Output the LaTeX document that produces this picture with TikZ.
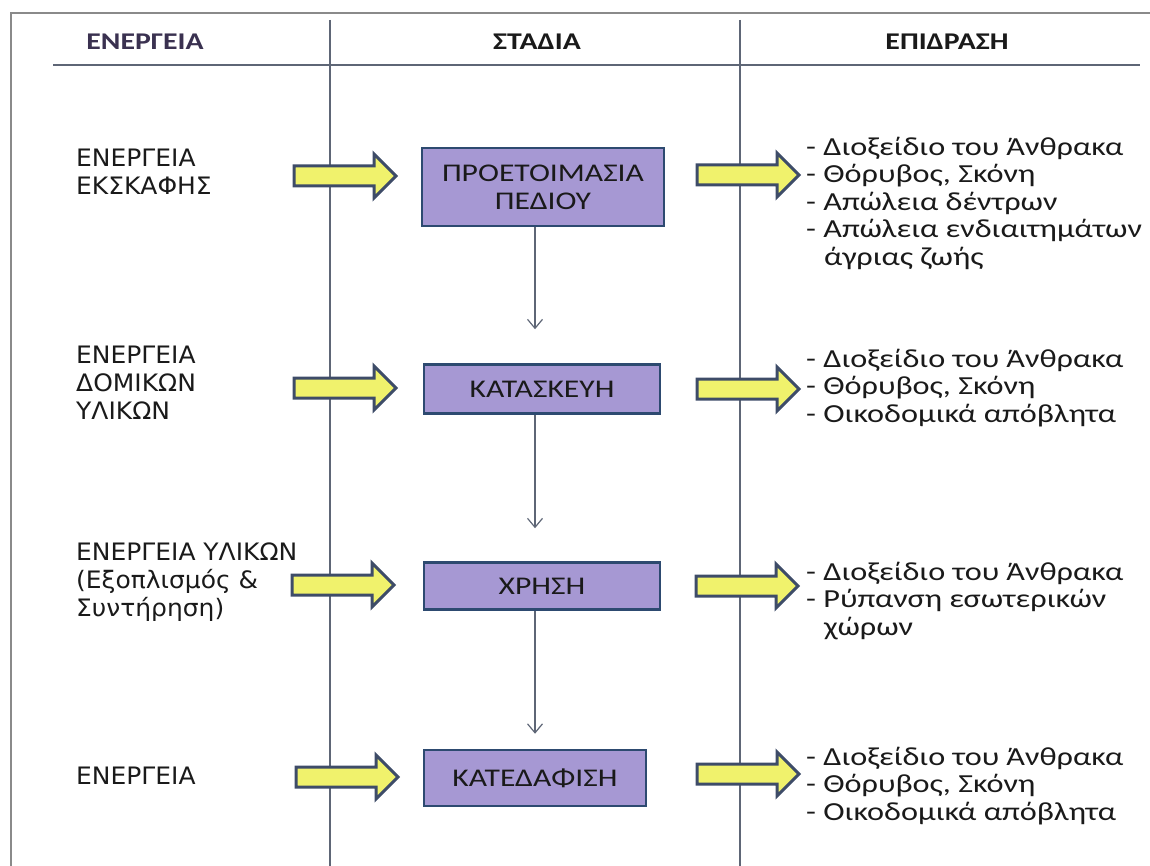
\documentclass[tikz,border=0pt]{standalone}
\usepackage{fontspec}
\setmainfont[FakeStretch=1.24]{Carlito}
\newfontfamily\lbl[FakeStretch=1.04]{DejaVu Sans}
\usetikzlibrary{arrows.meta}
\definecolor{frameg}{HTML}{8A8A8A}
\definecolor{colg}{HTML}{5E6676}
\definecolor{boxfill}{HTML}{A698D3}
\definecolor{boxdraw}{HTML}{2D4A70}
\definecolor{arrfill}{HTML}{F0F26C}
\definecolor{arrdraw}{HTML}{3E4C68}
\definecolor{hdrpurple}{HTML}{3A3150}
\definecolor{txt}{HTML}{1A1A1A}
\tikzset{
  hdr/.style={font=\fontsize{24}{28}\selectfont\bfseries, text=txt, inner sep=0pt},
  lefttxt/.style={font=\lbl\fontsize{24}{28}\selectfont, text=txt, align=left, anchor=west, inner sep=0pt},
  righttxt/.style={font=\fontsize{26}{27.5}\selectfont, text=txt, align=left, anchor=west, inner sep=0pt},
  stagebox/.style={draw=boxdraw, line width=2.5pt, fill=boxfill, font=\fontsize{25.5}{28}\selectfont, text=txt, align=center, inner sep=0pt},
  flowline/.style={draw=colg, line width=1.2pt, -{Straight Barb[length=9pt,width=15pt,line width=1.2pt]}},
  fatstyle/.style={draw=arrdraw, line width=3pt, fill=arrfill, line join=miter},
  fatarrow/.pic={\path[fatstyle] (-51,-10) -- (29,-10) -- (29,-22) -- (51,0) -- (29,22) -- (29,10) -- (-51,10) -- cycle;}
}
\begin{document}
\begin{tikzpicture}[x=1pt,y=-1pt]
\useasboundingbox (0,0) rectangle (1150,866);
% frame
\draw[frameg, line width=2.5pt] (11,866) -- (11,13) -- (1150,13);
\draw[colg, line width=1.5pt] (53,65) -- (1140,65);
\draw[colg, line width=1.3pt] (330,20) -- (330,866);
\draw[colg, line width=1.3pt] (740,20) -- (740,866);
% headers
\node[hdr, text=hdrpurple] (h1) at (145,42) {ΕΝΕΡΓΕΙΑ};
\node[hdr] (h2) at (537,42) {ΣΤΑΔΙΑ};
\node[hdr] (h3) at (947,42) {ΕΠΙΔΡΑΣΗ};
% boxes
\node[stagebox, minimum width=242pt, minimum height=78pt] (b1) at (543,187) {ΠΡΟΕΤΟΙΜΑΣΙΑ\\ΠΕΔΙΟΥ};
\node[stagebox, minimum width=236pt, minimum height=49pt] (b2) at (542,389) {ΚΑΤΑΣΚΕΥΗ};
\node[stagebox, minimum width=236pt, minimum height=47pt] (b3) at (542,586) {ΧΡΗΣΗ};
\node[stagebox, minimum width=222pt, minimum height=56pt] (b4) at (535,778) {ΚΑΤΕΔΑΦΙΣΗ};
% flow arrows
\draw[flowline, shorten >=34pt] (b1.south -| b4.north) -- (b2.north -| b4.north);
\draw[flowline, shorten >=33pt] (b2.south -| b4.north) -- (b3.north -| b4.north);
\draw[flowline, shorten >=15pt] (b3.south -| b4.north) -- (b4.north);
% left labels
\node[lefttxt] (l1) at (76,172) {ΕΝΕΡΓΕΙΑ\\ΕΚΣΚΑΦΗΣ};
\node[lefttxt] (l2) at (76,383) {ΕΝΕΡΓΕΙΑ\\ΔΟΜΙΚΩΝ\\ΥΛΙΚΩΝ};
\node[lefttxt] (l3) at (76,582) {ΕΝΕΡΓΕΙΑ ΥΛΙΚΩΝ\\(Εξοπλισμός \&\\Συντήρηση)};
\node[lefttxt] (l4) at (76,776) {ΕΝΕΡΓΕΙΑ};
% fat arrows
\pic at (345,176) {fatarrow};
\pic at (345,388) {fatarrow};
\pic at (343,585) {fatarrow};
\pic at (347,777) {fatarrow};
\pic at (748,175) {fatarrow};
\pic at (748,389) {fatarrow};
\pic at (747,586) {fatarrow};
\pic at (748,774) {fatarrow};
% right texts
\node[righttxt] (r1) at (806,203) {- Διοξείδιο του Άνθρακα\\- Θόρυβος, Σκόνη\\- Απώλεια δέντρων\\- Απώλεια ενδιαιτημάτων\\\hspace*{18pt}άγριας ζωής};
\node[righttxt] (r2) at (806,388) {- Διοξείδιο του Άνθρακα\\- Θόρυβος, Σκόνη\\- Οικοδομικά απόβλητα};
\node[righttxt] (r3) at (806,601) {- Διοξείδιο του Άνθρακα\\- Ρύπανση εσωτερικών\\\hspace*{18pt}χώρων};
\node[righttxt] (r4) at (806,786) {- Διοξείδιο του Άνθρακα\\- Θόρυβος, Σκόνη\\- Οικοδομικά απόβλητα};
\end{tikzpicture}
\end{document}
